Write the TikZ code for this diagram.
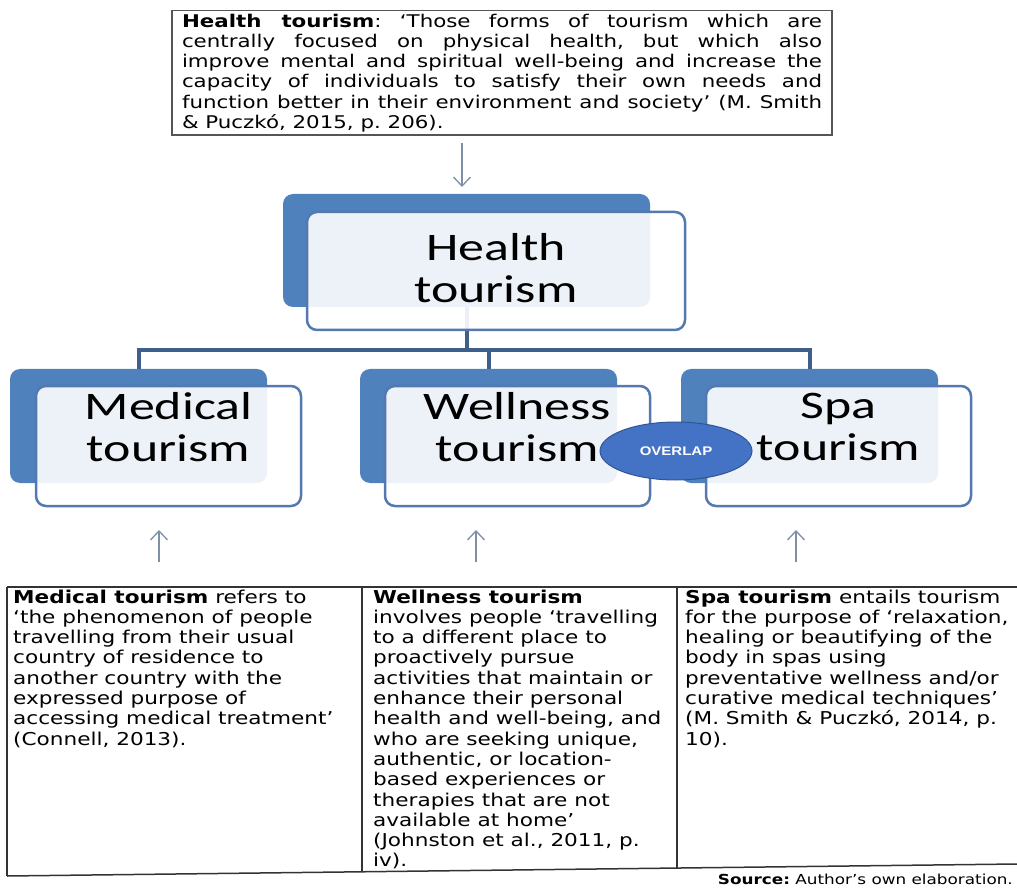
\documentclass[tikz,border=0pt]{standalone}
\usepackage{fontspec}
\setmainfont{DejaVu Sans}
\newfontfamily\bodyfont[FakeStretch=1.22]{DejaVu Sans}
\newfontfamily\boxfont[FakeStretch=1.33]{Carlito}
\newfontfamily\tagfont[FakeStretch=1.2]{Liberation Sans}
\usetikzlibrary{arrows.meta,shapes.geometric}

\definecolor{backblue}{HTML}{4F81BD}
\definecolor{frontblue}{HTML}{5479B0}
\definecolor{busblue}{HTML}{3E5F8A}
\definecolor{ovalblue}{HTML}{4472C4}
\definecolor{ovaledge}{HTML}{2F5597}
\definecolor{arrowgrey}{HTML}{7F8FA6}
\definecolor{rulegrey}{HTML}{333333}
\definecolor{framegrey}{HTML}{555555}

\tikzset{
  backbox/.style={fill=backblue, rounded corners=10pt, inner sep=0pt,
    minimum width=257pt, minimum height=114pt},
  frontbox/.style={draw=frontblue, line width=2.5pt, fill=white, fill opacity=0.9,
    rounded corners=10pt, inner sep=0pt, minimum width=265pt, minimum height=120pt},
  boxtext/.style={align=center, inner sep=0pt,
    font=\boxfont\fontsize{39}{42}\selectfont},
  bus/.style={draw=busblue, line width=4pt},
  pointer/.style={draw=arrowgrey, line width=1.3pt,
    -{Straight Barb[length=9pt,width=17pt]}},
  tablerule/.style={draw=rulegrey, line width=1.5pt},
  % multi-line text is anchored at the baseline of its last line
  coltext/.style={align=left, inner sep=0pt, anchor=base west,
    font=\bodyfont\fontsize{17.7}{20.3}\selectfont},
}

\begin{document}
\frenchspacing
\begin{tikzpicture}[x=1pt,y=-1pt]
\useasboundingbox (0,0) rectangle (1017,890);

% definition of health tourism
\node[draw=framegrey, line width=1.5pt, text width=640pt, inner xsep=10pt,
  inner ysep=3pt, align=justify, anchor=north,
  font=\bodyfont\fontsize{17.5}{20.3}\selectfont] (def) at (502,10)
  {\frenchspacing\textbf{Health tourism}: ‘Those forms of tourism which are\linebreak
   centrally focused on physical health, but which also\linebreak
   improve mental and spiritual well-being and increase the\linebreak
   capacity of individuals to satisfy their own needs and\linebreak
   function better in their environment and society’ (M. Smith\linebreak
   \& Puczkó, 2015, p. 206).};

% back (filled) boxes
\node[backbox, minimum width=367pt, minimum height=113pt] (healthB) at (466.5,250.5) {};
\node[backbox] (medB) at (138.5,426) {};
\node[backbox] (wellB) at (488.5,426) {};
\node[backbox] (spaB) at (809.5,426) {};

% tree connectors, drawn under the front boxes
\draw[bus] (healthB.south) -- ++(0,43);
\draw[bus] (medB.north) -- ++(0,-19) -| (spaB.north);
\draw[bus] (wellB.north) -- ++(0,-19);

% front (outlined) boxes
\node[frontbox, minimum width=378pt, minimum height=118pt] (healthF) at (496,271) {};
\node[frontbox] (medF) at (168.5,446) {};
\node[frontbox] (wellF) at (517.5,446) {};
\node[frontbox] (spaF) at (838.5,446) {};

% box labels
\node[boxtext] (healthT) at (496,268) {Health\\tourism};
\node[boxtext] (medT) at (168.5,427) {Medical\\tourism};
\node[boxtext] (wellT) at (517.5,427) {Wellness\\tourism};
\node[boxtext] (spaT) at (838.5,427) {Spa\\tourism};

% overlap marker
\node[ellipse, fill=ovalblue, draw=ovaledge, line width=1pt, inner sep=0pt,
  minimum width=152pt, minimum height=58pt, text=white,
  font=\tagfont\bfseries\fontsize{12.5}{12.5}\selectfont] (ov) at (676,451) {OVERLAP};

% pointers
\coordinate (dtop) at (462,143);
\coordinate (dtip) at (462,187);
\draw[pointer] (dtop) -- (dtip);
\coordinate (m0) at (159,562); \coordinate (m1) at (159,530);
\coordinate (w0) at (476,562); \coordinate (w1) at (476,530);
\coordinate (s0) at (796,562); \coordinate (s1) at (796,530);
\draw[pointer] (m0) -- (m1);
\draw[pointer] (w0) -- (w1);
\draw[pointer] (s0) -- (s1);

% definitions table
\draw[tablerule] (7,587) -- (1017,587);
\draw[tablerule] (7,587) -- (7,876);
\draw[tablerule] (362,587) -- (362,872);
\draw[tablerule] (677,587) -- (677,868);
\draw[tablerule] (7,876) -- (1017,864);

\node[coltext] (medD) at (13,745.1)
  {\textbf{Medical tourism} refers to\\
   ‘the phenomenon of people\\
   travelling from their usual\\
   country of residence to\\
   another country with the\\
   expressed purpose of\\
   accessing medical treatment’\\
   (Connell, 2013).};
\node[coltext] (wellD) at (373,866.9)
  {\textbf{Wellness tourism}\\
   involves people ‘travelling\\
   to a different place to\\
   proactively pursue\\
   activities that maintain or\\
   enhance their personal\\
   health and well-being, and\\
   who are seeking unique,\\
   authentic, or location-\\
   based experiences or\\
   therapies that are not\\
   available at home’\\
   (Johnston et al., 2011, p.\\
   iv).};
\node[coltext] (spaD) at (685,745.1)
  {\textbf{Spa tourism} entails tourism\\
   for the purpose of ‘relaxation,\\
   healing or beautifying of the\\
   body in spas using\\
   preventative wellness and/or\\
   curative medical techniques’\\
   (M. Smith \& Puczkó, 2014, p.\\
   10).};

\node[anchor=base east, inner sep=0pt,
  font=\bodyfont\fontsize{13.8}{16}\selectfont] (src) at (1013,884)
  {\textbf{Source:} Author’s own elaboration.};
\end{tikzpicture}
\end{document}
